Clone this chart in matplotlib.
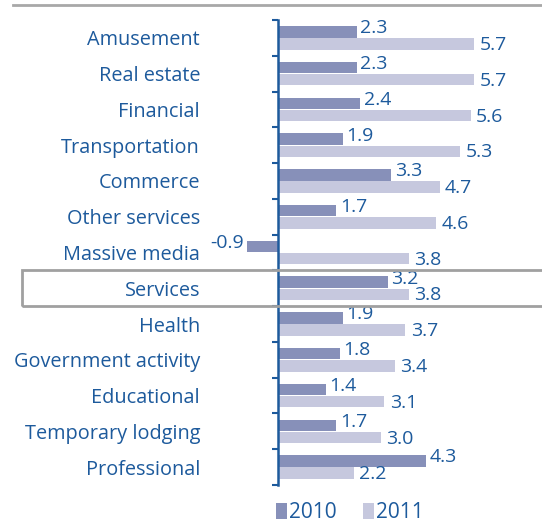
import matplotlib
matplotlib.use("Agg")
import matplotlib.pyplot as plt
from matplotlib.patches import Rectangle
import numpy as np

plt.rcParams['font.family'] = ['Open Sans', 'DejaVu Sans']

sectors = ["Amusement", "Real estate", "Financial", "Transportation", "Commerce",
           "Other services", "Massive media", "Services", "Health",
           "Government activity", "Educational", "Temporary lodging", "Professional"]
growth_2010 = [2.3, 2.3, 2.4, 1.9, 3.3, 1.7, -0.9, 3.2, 1.9, 1.8, 1.4, 1.7, 4.3]
growth_2011 = [5.7, 5.7, 5.6, 5.3, 4.7, 4.6, 3.8, 3.8, 3.7, 3.4, 3.1, 3.0, 2.2]

c2010 = '#8790b9'
c2011 = '#c6c8de'
txt = '#1d5a9c'

W, H = 542, 525
fig = plt.figure(figsize=(W / 100, H / 100), dpi=100)
ax = fig.add_axes([209 / W, 40 / H, 320 / W, 465 / H])

y = np.arange(len(sectors))
bh = 0.32
ax.barh(y - 0.17, growth_2010, height=bh, color=c2010, label='2010', zorder=2)
ax.barh(y + 0.17, growth_2011, height=bh, color=c2011, label='2011', zorder=2)

for i, (a, b) in enumerate(zip(growth_2010, growth_2011)):
    if a >= 0:
        ax.text(a + 0.1, i - 0.27, f"{a:.1f}", ha='left', va='center',
                color=txt, fontsize=14)
    else:
        ax.text(a - 0.08, i - 0.27, f"{a:.1f}", ha='right', va='center',
                color=txt, fontsize=14)
    ax.text(b + 0.16, i + 0.2, f"{b:.1f}", ha='left', va='center',
            color=txt, fontsize=14)

ax.set_xlim(-2, 7.3)
ax.set_ylim(len(sectors) - 0.5, -0.5)

for s in ['top', 'right', 'bottom']:
    ax.spines[s].set_visible(False)
ax.spines['left'].set_position(('data', 0))
ax.spines['left'].set_color(txt)
ax.spines['left'].set_linewidth(1.8)
ax.spines['left'].set_zorder(4)

ax.set_xticks([])
ax.set_yticks(y)
ax.set_yticklabels(sectors, fontsize=14.3, color=txt)
ax.tick_params(axis='y', which='major', length=0, pad=56)
ax.set_yticks(np.arange(len(sectors) + 1) - 0.5, minor=True)
ax.tick_params(axis='y', which='minor', length=4, width=1.5, color=txt, direction='out')

# highlight box around the aggregate row
fig.patches.append(Rectangle((22 / W, (525 - 306) / H), 560 / W, 36 / H,
                             transform=fig.transFigure, fill=False,
                             edgecolor='#a0a0a0', linewidth=2, zorder=3))
# rule under the heading
fig.add_artist(plt.Line2D([13 / W, 1], [1 - 5 / H, 1 - 5 / H],
                          transform=fig.transFigure, color='#a8a8a8', linewidth=2))

leg = fig.legend(loc='center', bbox_to_anchor=(350 / W, 1 - 513 / H), ncol=2,
                 frameon=False, fontsize=15, handlelength=0.5, handleheight=0.8,
                 handletextpad=0.1, columnspacing=1.3, labelcolor=txt)

fig.savefig('out.png', dpi=100)
